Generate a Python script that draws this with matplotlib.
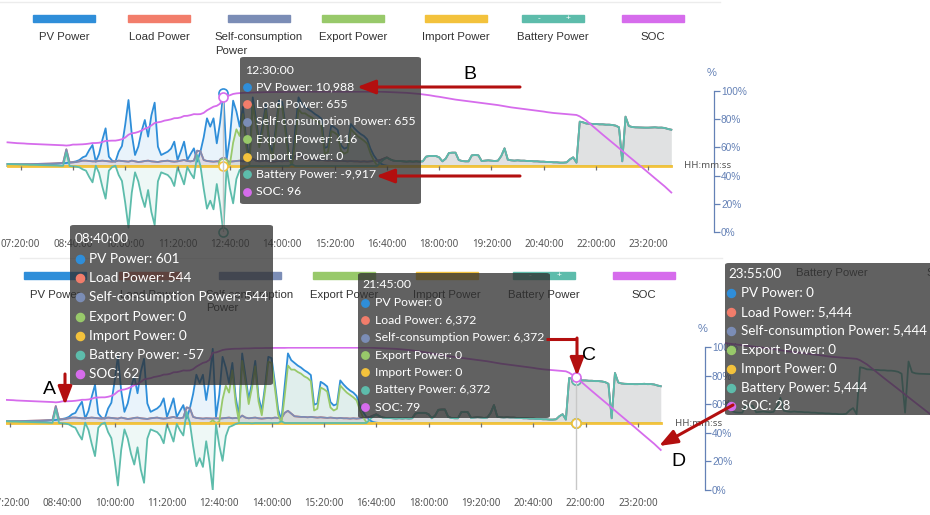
import numpy as np
import matplotlib
matplotlib.use("Agg")
import matplotlib.pyplot as plt
from matplotlib.patches import Rectangle, FancyBboxPatch, FancyArrowPatch
from matplotlib.lines import Line2D

# ---------------------------------------------------------------- data
# 5-minute samples, 07:00 ... 23:55 (one row of 12 values per hour)
minutes = np.arange(7 * 60, 24 * 60, 5)

pv_power = [
    0, 0, 10, 20, 40, 60, 80, 100, 120, 150, 180, 200,                       # 07
    230, 260, 300, 330, 380, 420, 450, 520, 601, 700, 900, 1300,             # 08
    1500, 2400, 3150, 650, 1800, 3900, 5650, 1400, 800, 650, 2150, 3000,     # 09
    6200, 9900, 4800, 1650, 2900, 5200, 6900, 4400, 7600, 9500, 2900, 1650,  # 10
    1900, 2150, 2600, 3650, 900, 2200, 3650, 900, 1800, 2650, 650, 2150,     # 11
    4300, 7150, 5900, 7150, 3400, 6500, 10988, 900, 4200, 9800, 8200, 5900,  # 12
    8900, 3900, 950, 10300, 7000, 3500, 6000, 9200, 3900, 1800, 5500, 9800,  # 13
    9600, 6000, 2000, 450, 5500, 10300, 9300, 8900, 8500, 8200, 7800, 7500,  # 14
    7100, 2700, 2900, 6100, 5800, 5400, 3100, 2600, 2800, 6300, 5700, 5200,  # 15
    4800, 4500, 4000, 2600, 1600, 900, 400, 150, 50, 0, 0, 0,                # 16
    0, 0, 0, 0, 0, 0, 0, 0, 0, 0, 0, 0,                                      # 17
    0, 0, 0, 0, 0, 0, 0, 0, 0, 0, 0, 0,                                      # 18
    0, 0, 0, 0, 0, 0, 0, 0, 0, 0, 0, 0,                                      # 19
    0, 0, 0, 0, 0, 0, 0, 0, 0, 0, 0, 0,                                      # 20
    0, 0, 0, 0, 0, 0, 0, 0, 0, 0, 0, 0,                                      # 21
    0, 0, 0, 0, 0, 0, 0, 0, 0, 0, 0, 0,                                      # 22
    0, 0, 0, 0, 0, 0, 0, 0, 0, 0, 0, 0,                                      # 23
]

load_power = [
    300, 290, 280, 280, 270, 280, 290, 280, 300, 310, 320, 330,              # 07
    340, 360, 380, 400, 420, 450, 2500, 520, 544, 600, 700, 800,             # 08
    800, 750, 700, 700, 750, 800, 750, 700, 650, 700, 800, 750,              # 09
    700, 650, 800, 700, 600, 650, 750, 800, 700, 650, 600, 700,              # 10
    750, 800, 700, 650, 700, 800, 900, 750, 700, 800, 2300, 2200,            # 11
    900, 750, 700, 650, 700, 680, 655, 700, 650, 700, 750, 800,              # 12
    700, 750, 700, 1100, 800, 700, 750, 800, 700, 650, 700, 750,             # 13
    700, 800, 750, 700, 1500, 1800, 1400, 1000, 950, 900, 900, 850,          # 14
    900, 850, 800, 850, 800, 750, 800, 750, 700, 750, 700, 700,              # 15
    650, 700, 650, 700, 750, 800, 900, 1100, 1300, 1000, 800, 750,           # 16
    750, 700, 650, 700, 650, 700, 650, 700, 1400, 1500, 1500, 1500,          # 17
    1300, 700, 1100, 1950, 2000, 2000, 900, 750, 700, 700, 1600, 1650,       # 18
    1600, 750, 800, 850, 800, 750, 800, 1500, 2650, 950, 850, 800,           # 19
    850, 800, 800, 750, 750, 700, 700, 650, 650, 600, 600, 550,              # 20
    550, 500, 500, 550, 1000, 1300, 500, 6650, 6550, 6372, 6350, 6300,       # 21
    6300, 6250, 6250, 6200, 6200, 6150, 6050, 5800, 700, 7400, 6000, 5850,   # 22
    5800, 5780, 5760, 5750, 5750, 5780, 5800, 5750, 5760, 5700, 5550, 5444,  # 23
]

# self-consumption equals the load at every sample of this day
self_consumption_power = list(load_power)

export_power = [
    0, 0, 0, 0, 0, 0, 0, 0, 0, 0, 0, 0,                                      # 07
    0, 0, 0, 0, 0, 0, 0, 0, 0, 0, 0, 0,                                      # 08
    0, 0, 0, 0, 0, 0, 0, 0, 0, 0, 0, 0,                                      # 09
    0, 0, 0, 0, 0, 0, 0, 0, 0, 0, 0, 0,                                      # 10
    0, 0, 0, 0, 0, 0, 0, 0, 0, 0, 0, 0,                                      # 11
    0, 0, 0, 0, 0, 0, 416, 0, 200, 3500, 5500, 4500,                         # 12
    7800, 3000, 250, 9200, 6200, 2800, 5200, 8400, 3200, 1150, 4800, 9050,   # 13
    8900, 5200, 1250, 0, 4000, 8500, 7900, 7900, 7550, 7300, 6900, 6650,     # 14
    6200, 1850, 2100, 5250, 5000, 4650, 2300, 1850, 2100, 5550, 5000, 4500,  # 15
    4150, 3800, 3350, 1900, 850, 100, 0, 0, 0, 0, 0, 0,                      # 16
    0, 0, 0, 0, 0, 0, 0, 0, 0, 0, 0, 0,                                      # 17
    0, 0, 0, 0, 0, 0, 0, 0, 0, 0, 0, 0,                                      # 18
    0, 0, 0, 0, 0, 0, 0, 0, 0, 0, 0, 0,                                      # 19
    0, 0, 0, 0, 0, 0, 0, 0, 0, 0, 0, 0,                                      # 20
    0, 0, 0, 0, 0, 0, 0, 0, 0, 0, 0, 0,                                      # 21
    0, 0, 0, 0, 0, 0, 0, 0, 0, 0, 0, 0,                                      # 22
    0, 0, 0, 0, 0, 0, 0, 0, 0, 0, 0, 0,                                      # 23
]

import_power = [
    0, 0, 0, 0, 0, 0, 0, 0, 0, 0, 0, 0,   # 07
    0, 0, 0, 0, 0, 0, 0, 0, 0, 0, 0, 0,   # 08
    0, 0, 0, 0, 0, 0, 0, 0, 0, 0, 0, 0,   # 09
    0, 0, 0, 0, 0, 0, 0, 0, 0, 0, 0, 0,   # 10
    0, 0, 0, 0, 0, 0, 0, 0, 0, 0, 0, 0,   # 11
    0, 0, 0, 0, 0, 0, 0, 0, 0, 0, 0, 0,   # 12
    0, 0, 0, 0, 0, 0, 0, 0, 0, 0, 0, 0,   # 13
    0, 0, 0, 0, 0, 0, 0, 0, 0, 0, 0, 0,   # 14
    0, 0, 0, 0, 0, 0, 0, 0, 0, 0, 0, 0,   # 15
    0, 0, 0, 0, 0, 0, 0, 0, 0, 0, 0, 0,   # 16
    0, 0, 0, 0, 0, 0, 0, 0, 0, 0, 0, 0,   # 17
    0, 0, 0, 0, 0, 0, 0, 0, 0, 0, 0, 0,   # 18
    0, 0, 0, 0, 0, 0, 0, 0, 0, 0, 0, 0,   # 19
    0, 0, 0, 0, 0, 0, 0, 0, 0, 0, 0, 0,   # 20
    0, 0, 0, 0, 0, 0, 0, 0, 0, 0, 0, 0,   # 21
    0, 0, 0, 0, 0, 0, 0, 0, 0, 0, 0, 0,   # 22
    0, 0, 0, 0, 0, 0, 0, 0, 0, 0, 0, 0,   # 23
]

battery_power = [
    300, 290, 270, 260, 230, 220, 210, 180, 180, 160, 140, 130,                      # 07
    110, 100, 80, 70, 40, 30, 2050, 0, -57, -100, -200, -500,                        # 08
    -700, -1650, -2450, 50, -1050, -3100, -4900, -700, -150, 50, -1350, -2250,       # 09
    -5500, -9250, -4000, -950, -2300, -4550, -6150, -3600, -6900, -8850, -2300, -950,  # 10
    -1150, -1350, -1900, -3000, -200, -1400, -2750, -150, -1100, -1850, 1650, 50,    # 11
    -3400, -6400, -5200, -6500, -2700, -5820, -9917, -200, -3350, -5600, -1950, -600,  # 12
    -400, -150, 0, 0, 0, 0, -50, 0, 0, 0, 0, 0,                                      # 13
    0, 0, 0, 250, 0, 0, 0, 0, 0, 0, 0, 0,                                            # 14
    0, 0, 0, 0, 0, 0, 0, 0, 0, 0, 0, 0,                                              # 15
    0, 0, 0, 0, 0, 0, 500, 950, 1250, 1000, 800, 750,                                # 16
    750, 700, 650, 700, 650, 700, 650, 700, 1400, 1500, 1500, 1500,                  # 17
    1300, 700, 1100, 1950, 2000, 2000, 900, 750, 700, 700, 1600, 1650,               # 18
    1600, 750, 800, 850, 800, 750, 800, 1500, 2650, 950, 850, 800,                   # 19
    850, 800, 800, 750, 750, 700, 700, 650, 650, 600, 600, 550,                      # 20
    550, 500, 500, 550, 1000, 1300, 500, 6650, 6550, 6372, 6350, 6300,               # 21
    6300, 6250, 6250, 6200, 6200, 6150, 6050, 5800, 700, 7400, 6000, 5850,           # 22
    5800, 5780, 5760, 5750, 5750, 5780, 5800, 5750, 5760, 5700, 5550, 5444,          # 23
]

soc = [
    63.6, 63.4, 63.2, 63.0, 62.9, 62.8, 62.6, 62.5, 62.4, 62.3, 62.2, 62.1,  # 07
    62.0, 61.9, 61.8, 61.7, 61.6, 61.5, 61.3, 61.5, 62.0, 62.0, 62.1, 62.2,  # 08
    62.4, 62.7, 63.1, 63.1, 63.3, 63.8, 64.6, 64.7, 64.8, 64.8, 65.2, 65.8,  # 09
    67.0, 69.0, 70.0, 70.3, 71.0, 72.0, 73.3, 74.1, 75.6, 77.3, 77.8, 78.2,  # 10
    79.0, 79.4, 79.9, 80.7, 80.8, 81.3, 82.3, 82.4, 82.9, 83.6, 83.5, 83.6,  # 11
    84.5, 86.3, 87.6, 88.9, 89.5, 91.0, 96.0, 96.2, 97.0, 97.9, 98.3, 98.5,  # 12
    98.7, 98.8, 98.8, 98.9, 99.0, 99.0, 99.1, 99.2, 99.2, 99.2, 99.3, 99.3,  # 13
    99.3, 99.4, 99.4, 99.4, 99.4, 99.5, 99.5, 99.5, 99.5, 99.5, 99.5, 99.5,  # 14
    99.5, 99.5, 99.5, 99.5, 99.5, 99.5, 99.5, 99.5, 99.5, 99.5, 99.5, 99.5,  # 15
    99.5, 99.5, 99.5, 99.5, 99.5, 99.5, 99.5, 99.4, 99.3, 99.2, 99.1, 99.0,  # 16
    98.9, 98.8, 98.7, 98.5, 98.3, 98.1, 97.9, 97.6, 97.3, 97.0, 96.6, 96.2,  # 17
    95.9, 95.5, 95.1, 94.7, 94.3, 93.9, 93.6, 93.3, 93.0, 92.7, 92.4, 92.1,  # 18
    91.8, 91.5, 91.2, 90.9, 90.6, 90.3, 90.0, 89.6, 89.2, 88.8, 88.4, 88.1,  # 19
    87.8, 87.5, 87.2, 86.9, 86.6, 86.3, 86.0, 85.7, 85.4, 85.0, 84.7, 84.4,  # 20
    84.2, 84.0, 83.8, 83.6, 83.4, 83.2, 83.0, 82.0, 80.5, 79.0, 77.0, 75.0,  # 21
    73.0, 71.0, 69.1, 67.2, 65.3, 63.3, 61.4, 59.5, 57.5, 55.6, 53.6, 51.7,  # 22
    49.8, 47.8, 45.9, 44.0, 42.0, 40.1, 38.1, 36.2, 34.2, 32.3, 30.1, 28.0,  # 23
]

series_names = ["PV Power", "Load Power", "Self-consumption Power", "Export Power",
                "Import Power", "Battery Power", "SOC"]
x_tick_labels = ["07:20:00", "08:40:00", "10:00:00", "11:20:00", "12:40:00", "14:00:00",
                 "15:20:00", "16:40:00", "18:00:00", "19:20:00", "20:40:00", "22:00:00",
                 "23:20:00"]
soc_ticks = [0, 20, 40, 60, 80, 100]
tooltip_times = ["12:30:00", "08:40:00", "21:45:00", "23:55:00"]
marker_letters = ["A", "B", "C", "D"]

# ---------------------------------------------------------------- style
COLORS = {
    "PV Power": "#2f8ed9",
    "Load Power": "#f27d6b",
    "Self-consumption Power": "#7b8db6",
    "Export Power": "#98c96a",
    "Import Power": "#f3c23c",
    "Battery Power": "#5dbcab",
    "SOC": "#d66cec",
}
STEEL = "#6481b6"
RED = "#b30f0f"
TIP_FONT = "Lato"
TICK_FONT = "Noto Sans"
LABEL_FONT = "Liberation Sans"
plt.rcParams["font.family"] = [LABEL_FONT, "DejaVu Sans"]

W, H = 930, 515
fig = plt.figure(figsize=(W / 100, H / 100), dpi=100)
fig.patch.set_facecolor("white")
renderer = fig.canvas.get_renderer()


def fx(x):
    return x / W


def fy(y):
    return 1 - y / H


def fit_size(text, target_px, family, base=10.0):
    t = fig.text(0, 0, text, fontsize=base, family=family)
    w = t.get_window_extent(renderer).width
    t.remove()
    return base * target_px / w


def hms_to_min(s):
    h, m, _ = s.split(":")
    return int(h) * 60 + int(m)


values = {
    "PV Power": np.array(pv_power, float),
    "Load Power": np.array(load_power, float),
    "Self-consumption Power": np.array(self_consumption_power, float),
    "Export Power": np.array(export_power, float),
    "Import Power": np.array(import_power, float),
    "Battery Power": np.array(battery_power, float),
    "SOC": np.array(soc, float),
}
power_names = series_names[:-1]
tick_min = [hms_to_min(s) for s in x_tick_labels]

TICK_FS = fit_size("15:20:00", 39, TICK_FONT)
LEG_FS = fit_size("Battery Power", 72, LABEL_FONT)
PX_PER_MIN = 0.654


# ---------------------------------------------------------------- panels
def draw_panel(left, right, top, bottom, px_ref, t_ref, zero_px, w_per_px,
               axis_px, label_pad, hover_time):
    ax = fig.add_axes([fx(left), fy(bottom), (right - left) / W, (bottom - top) / H])
    ax.set_xlim(t_ref + (left - px_ref) / PX_PER_MIN, t_ref + (right - px_ref) / PX_PER_MIN)
    ax.set_ylim(-(bottom - zero_px) * w_per_px, (zero_px - top) * w_per_px)
    ax.patch.set_alpha(0)
    for s in ax.spines.values():
        s.set_visible(False)
    ax.set_yticks([])
    for name in power_names:
        ax.fill_between(minutes, 0, values[name], color=COLORS[name], alpha=0.10,
                        lw=0, zorder=1)
    for k, name in enumerate(power_names):
        lw = 2.0 if name == "Import Power" else 1.3
        ax.plot(minutes, values[name], color=COLORS[name], lw=lw, zorder=2 + k,
                solid_joinstyle="round")
    ax.vlines(tick_min, -4 * w_per_px, 0, color="#707070", lw=0.9, zorder=9)
    ax.set_xticks(tick_min)
    ax.set_xticklabels(x_tick_labels, fontsize=TICK_FS, color="#555555", family=TICK_FONT)
    ax.tick_params(axis="x", length=0, pad=label_pad)

    ax2 = ax.twinx()
    ax2.set_ylim(0, 100)
    ax2.patch.set_alpha(0)
    for sp in ["left", "top", "bottom"]:
        ax2.spines[sp].set_visible(False)
    ax2.spines["right"].set_position(("axes", (axis_px - left) / (right - left)))
    ax2.spines["right"].set_color(STEEL)
    ax2.spines["right"].set_linewidth(0.9)
    ax2.set_yticks(soc_ticks)
    ax2.set_yticklabels([f"{v}%" for v in soc_ticks])
    ax2.tick_params(axis="y", colors=STEEL, length=4, width=0.9, pad=1, labelsize=7.3)
    ax2.plot(minutes, values["SOC"], color=COLORS["SOC"], lw=1.3, zorder=5)

    # hover pointer
    ht = hms_to_min(hover_time)
    hi = int((ht - minutes[0]) // 5)
    ax2.plot([ht, ht], [0, values["SOC"][hi]], color="#c8c8c8", lw=1.0, zorder=1)
    for name in power_names:
        ax.plot([ht], [values[name][hi]], marker="o", ms=6.5, mfc="white",
                mec=COLORS[name], mew=1.2, zorder=20, clip_on=False)
    ax2.plot([ht], [values["SOC"][hi]], marker="o", ms=6.5, mfc="white",
             mec=COLORS["SOC"], mew=1.2, zorder=20, clip_on=False)

    fig.text(fx(axis_px - 2), fy(top - 18), "%", color=STEEL, fontsize=8,
             ha="center", va="center")
    fig.text(fx(axis_px - 30), fy(zero_px), "HH:mm:ss", color="#555555", fontsize=7,
             ha="left", va="center", family=TICK_FONT)
    return ax, ax2


LEG_BAR_LEFT = [33, 128, 228, 322, 425, 522, 622]


def draw_legend(dx, dy):
    for name, bl in zip(series_names, LEG_BAR_LEFT):
        x0 = bl + dx
        fig.patches.append(Rectangle((fx(x0), fy(22 + dy)), 62 / W, 7 / H,
                                     transform=fig.transFigure, color=COLORS[name],
                                     zorder=2))
        label = name.replace("consumption Power", "consumption\nPower")
        fig.text(fx(x0 + 31), fy(32.5 + dy), label, ha="center", va="top",
                 multialignment="left", fontsize=LEG_FS, color="#333333",
                 linespacing=1.4, zorder=3)
        if name == "Battery Power":
            fig.text(fx(x0 + 17), fy(18.5 + dy), "-", color="white", fontsize=6,
                     ha="center", va="center", zorder=3)
            fig.text(fx(x0 + 46), fy(18.5 + dy), "+", color="white", fontsize=6,
                     ha="center", va="center", zorder=3)


def fmt(name, v):
    return f"{v:.0f}" if name == "SOC" else f"{v:,.0f}"


def draw_tooltip(box, title, title_xy, row_y0, row_dy, dot_x, text_x, row_px):
    x0, y0, x1, y1 = box
    idx = int((hms_to_min(title) - minutes[0]) // 5)
    sample = f"Self-consumption Power: {fmt('x', values['Self-consumption Power'][idx])}"
    fs = fit_size(sample, row_px, TIP_FONT)
    fig.patches.append(FancyBboxPatch((fx(x0), fy(y1)), (x1 - x0) / W, (y1 - y0) / H,
                                      boxstyle="round,pad=0,rounding_size=0.004",
                                      transform=fig.transFigure, fc="#303030",
                                      ec="none", alpha=0.76, zorder=10))
    fig.text(fx(title_xy[0]), fy(title_xy[1]), title, color="white", fontsize=fs,
             ha="left", va="center", family=TIP_FONT, zorder=11)
    for k, name in enumerate(series_names):
        y = row_y0 + k * row_dy
        fig.lines.append(Line2D([fx(dot_x)], [fy(y)], marker="o", ms=fs * 0.6,
                                color=COLORS[name], transform=fig.transFigure, zorder=11))
        fig.text(fx(text_x), fy(y), f"{name}: {fmt(name, values[name][idx])}",
                 color="white", fontsize=fs, ha="left", va="center",
                 family=TIP_FONT, zorder=11)


def arrow(x0, y0, x1, y1):
    fig.patches.append(FancyArrowPatch((fx(x0), fy(y0)), (fx(x1), fy(y1)),
                                       transform=fig.transFigure,
                                       arrowstyle="-|>,head_length=1.1,head_width=0.42",
                                       mutation_scale=10, color=RED, lw=2.2,
                                       shrinkA=0, shrinkB=0, zorder=12))


# faint separators
fig.lines.append(Line2D([fx(0), fx(720)], [fy(1.5), fy(1.5)], color="#ececec", lw=1,
                        transform=fig.transFigure, zorder=0))
fig.lines.append(Line2D([fx(20), fx(722)], [fy(258), fy(258)], color="#ececec", lw=1,
                        transform=fig.transFigure, zorder=0))

# top chart
draw_legend(0, 0)
draw_panel(6, 673, 91, 232, 7.5, 420, 166, 150, 714, 5.0, tooltip_times[0])
# bottom chart
draw_legend(-9, 257)
draw_panel(6, 664, 347, 490, 10, 440, 423, 148, 705, 5.5, tooltip_times[2])

# magnified view sitting behind the last tooltip
ins = fig.add_axes([fx(725), fy(415), 205 / W, 152 / H], zorder=5)
ins.set_xlim(1100, 1396)
ins.set_ylim(393, 20300)
ins.axis("off")
ins.plot(minutes, values["Battery Power"], color=COLORS["Battery Power"], lw=1.3)
ins2 = ins.twinx()
ins2.set_ylim(42.9, 151.4)
ins2.axis("off")
ins2.plot(minutes, values["SOC"], color=COLORS["SOC"], lw=1.3)
fig.text(fx(832), fy(273), "Battery Power", color="#444444", fontsize=LEG_FS,
         ha="center", va="center", zorder=6)
fig.text(fx(926), fy(273), "SOC", color="#444444", fontsize=LEG_FS,
         ha="left", va="center", zorder=6)

# tooltips
draw_tooltip((240, 57, 421, 204), tooltip_times[0], (245, 70.5), 87, 17.45, 247, 256, 161)
draw_tooltip((70, 225, 273, 385), tooltip_times[1], (75, 239), 259, 19.2, 80, 89, 179)
draw_tooltip((358, 273, 550, 418), tooltip_times[2], (362, 285), 303, 17.35, 365, 375, 171)
draw_tooltip((725, 263, 935, 415), tooltip_times[3], (728, 274), 293, 18.9, 731, 741, 186)

# annotation arrows
arrow(65, 374, 65, 405)
arrow(520, 87, 357, 87)
arrow(520, 176, 376, 176)
fig.lines.append(Line2D([fx(546), fx(577)], [fy(339), fy(339)], color=RED, lw=2.2,
                        transform=fig.transFigure, zorder=12, solid_capstyle="butt"))
arrow(577, 338, 577, 376)
arrow(733, 405, 659, 446)

for letter, (lx, ly) in zip(marker_letters, [(49, 390), (470, 75), (589, 356), (678, 461)]):
    fig.text(fx(lx), fy(ly), letter, fontsize=14, color="black", ha="center",
             va="center", zorder=12)

fig.savefig("out.png", dpi=100, facecolor="white")
